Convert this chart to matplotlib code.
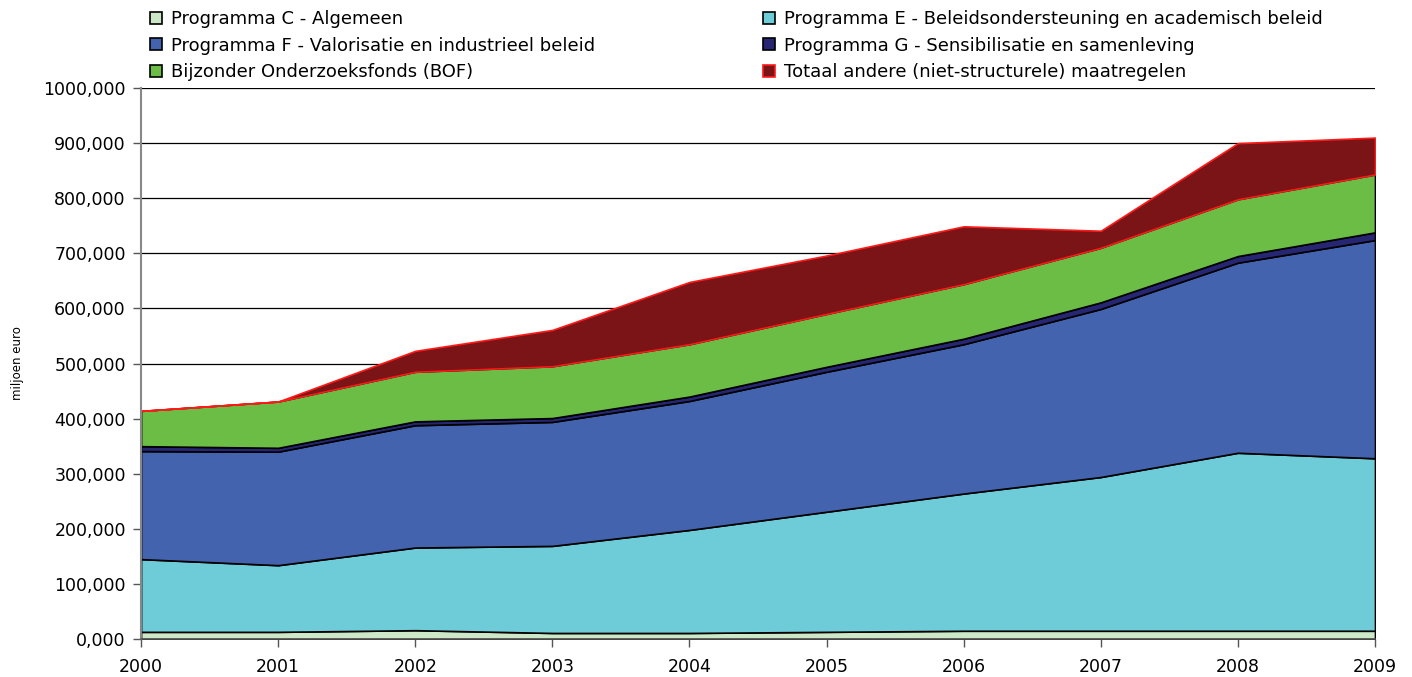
import numpy as np
import matplotlib
matplotlib.use("Agg")
import matplotlib.pyplot as plt
from matplotlib.patches import Patch

plt.rcParams.update({
    'font.family': ['DejaVu Sans'],
    'font.size': 11,
})

# ---- data (miljoen euro) ----
years = [2000, 2001, 2002, 2003, 2004, 2005, 2006, 2007, 2008, 2009]
prog_c = [13, 13, 16, 11, 11, 13, 15, 15, 15, 15]
prog_e = [132, 121, 150, 158, 187, 218, 249, 279, 323, 313]
prog_f = [196, 206, 222, 225, 234, 254, 271, 305, 345, 396]
prog_g = [9, 7, 7, 7, 8, 9, 10, 12, 12, 14]
bof = [64, 84, 90, 94, 95, 96, 99, 99, 103, 105]
andere = [0, 0, 38, 66, 113, 106, 105, 31, 102, 67]

labels = ['Programma C - Algemeen',
          'Programma E - Beleidsondersteuning en academisch beleid',
          'Programma F - Valorisatie en industrieel beleid',
          'Programma G - Sensibilisatie en samenleving',
          'Bijzonder Onderzoeksfonds (BOF)',
          'Totaal andere (niet-structurele) maatregelen']
colors = ['#cde8c6', '#6ecbd8', '#4363ae', '#262673', '#6bbd45', '#7b1416']
edges = ['black', 'black', 'black', 'black', 'black', '#ff1a1a']
yticks = [0, 100, 200, 300, 400, 500, 600, 700, 800, 900, 1000]

fig = plt.figure(figsize=(14.12, 6.77), dpi=100)
ax = fig.add_axes([0.0999, 0.0561, 0.8739, 0.8139])

series = [prog_c, prog_e, prog_f, prog_g, bof, andere]
polys = ax.stackplot(years, *series, colors=colors, linewidth=1.2)
for p, ec in zip(polys, edges):
    p.set_edgecolor(ec)

ax.set_xlim(2000, 2009)
ax.set_ylim(0, 1000)
ax.set_xticks(years)
ax.set_xticklabels([str(y) for y in years], fontsize=12.5)
ax.set_yticks(yticks)
ax.set_yticklabels([f'{v:.3f}'.replace('.', ',') for v in yticks], fontsize=12.5)
ax.yaxis.grid(True, color='black', linewidth=0.9)
ax.set_axisbelow(True)
ax.tick_params(axis='both', direction='out', length=6, color='#555555', width=1)
ax.tick_params(axis='x', pad=8)
ax.tick_params(axis='y', pad=5)

for s in ['top', 'right']:
    ax.spines[s].set_visible(False)
ax.spines['left'].set_color('#888888')
ax.spines['left'].set_linewidth(1.5)
ax.spines['bottom'].set_color('#555555')
ax.spines['bottom'].set_linewidth(1.2)

ax.set_ylabel('miljoen euro', fontsize=8.5, labelpad=14)

handles = [Patch(facecolor=c, edgecolor=e, linewidth=1.2) for c, e in zip(colors, edges)]
leg_kw = dict(frameon=False, fontsize=13, handlelength=0.65, handleheight=0.65,
              handletextpad=0.5, labelspacing=0.48, borderaxespad=0, borderpad=0)
leg1 = fig.legend([handles[0], handles[2], handles[4]], [labels[0], labels[2], labels[4]],
                  loc='upper left', bbox_to_anchor=(150 / 1412, 1 - 10 / 677), **leg_kw)
leg2 = fig.legend([handles[1], handles[3], handles[5]], [labels[1], labels[3], labels[5]],
                  loc='upper left', bbox_to_anchor=(763 / 1412, 1 - 10 / 677), **leg_kw)

fig.savefig('out.png', dpi=100, facecolor='white')
